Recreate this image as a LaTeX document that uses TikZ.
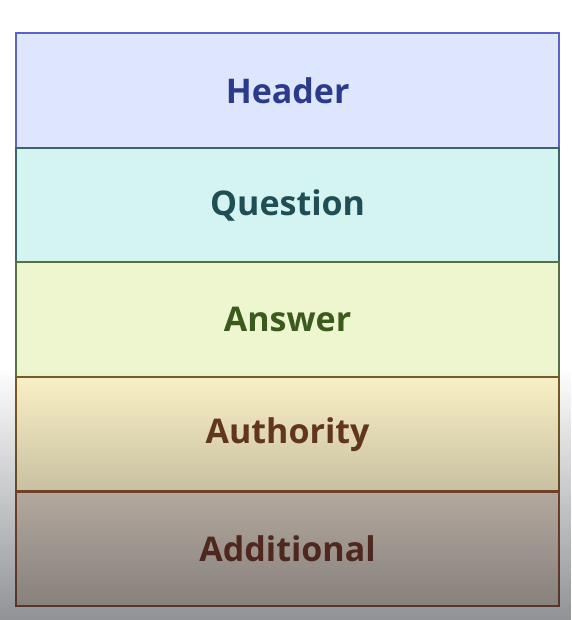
\documentclass[tikz,border=0pt]{standalone}
\usepackage{fontspec}
\setmainfont{Open Sans}
\usetikzlibrary{fadings}
\definecolor{hdfill}{HTML}{DDE6FD}
\definecolor{hddraw}{HTML}{5C63C4}
\definecolor{hdtext}{HTML}{2B3A8A}
\definecolor{qufill}{HTML}{D4F4F2}
\definecolor{qudraw}{HTML}{3D6468}
\definecolor{qutext}{HTML}{1F4F55}
\definecolor{anfill}{HTML}{EEF6CF}
\definecolor{andraw}{HTML}{5A7040}
\definecolor{antext}{HTML}{3D5A1E}
\definecolor{aufill}{HTML}{FEF4C8}
\definecolor{audraw}{HTML}{7A5A2A}
\definecolor{autext}{HTML}{6B3A1C}
\definecolor{adfill}{HTML}{E2D4C4}
\definecolor{addraw}{HTML}{8A4A2A}
\definecolor{adtext}{HTML}{6B2E1C}
\definecolor{shadowc}{HTML}{191C25}
\tikzset{
  layer/.style={draw, line width=2.2pt, minimum width=543pt, minimum height=114.6pt,
    inner sep=0pt, font=\fontsize{34}{40}\selectfont\bfseries, anchor=north west}
}
\begin{document}
\begin{tikzpicture}[x=1pt,y=1pt]
\useasboundingbox (0,0) rectangle (571,-620);
\fill[white] (0,0) rectangle (571,-620);
\node[layer, fill=hdfill, draw=hddraw, text=hdtext] (header) at (15,-32) {Header};
\node[layer, fill=qufill, draw=qudraw, text=qutext] (question) at (15,-146.6) {Question};
\node[layer, fill=anfill, draw=andraw, text=antext] (answer) at (15,-261.2) {Answer};
\node[layer, fill=aufill, draw=audraw, text=autext] (authority) at (15,-375.8) {Authority};
\node[layer, fill=adfill, draw=addraw, text=adtext] (additional) at (15,-490.4) {Additional};
\fill[shadowc, fill opacity=0.48, path fading=north] (0,-368) rectangle (571,-620);
\end{tikzpicture}
\end{document}
